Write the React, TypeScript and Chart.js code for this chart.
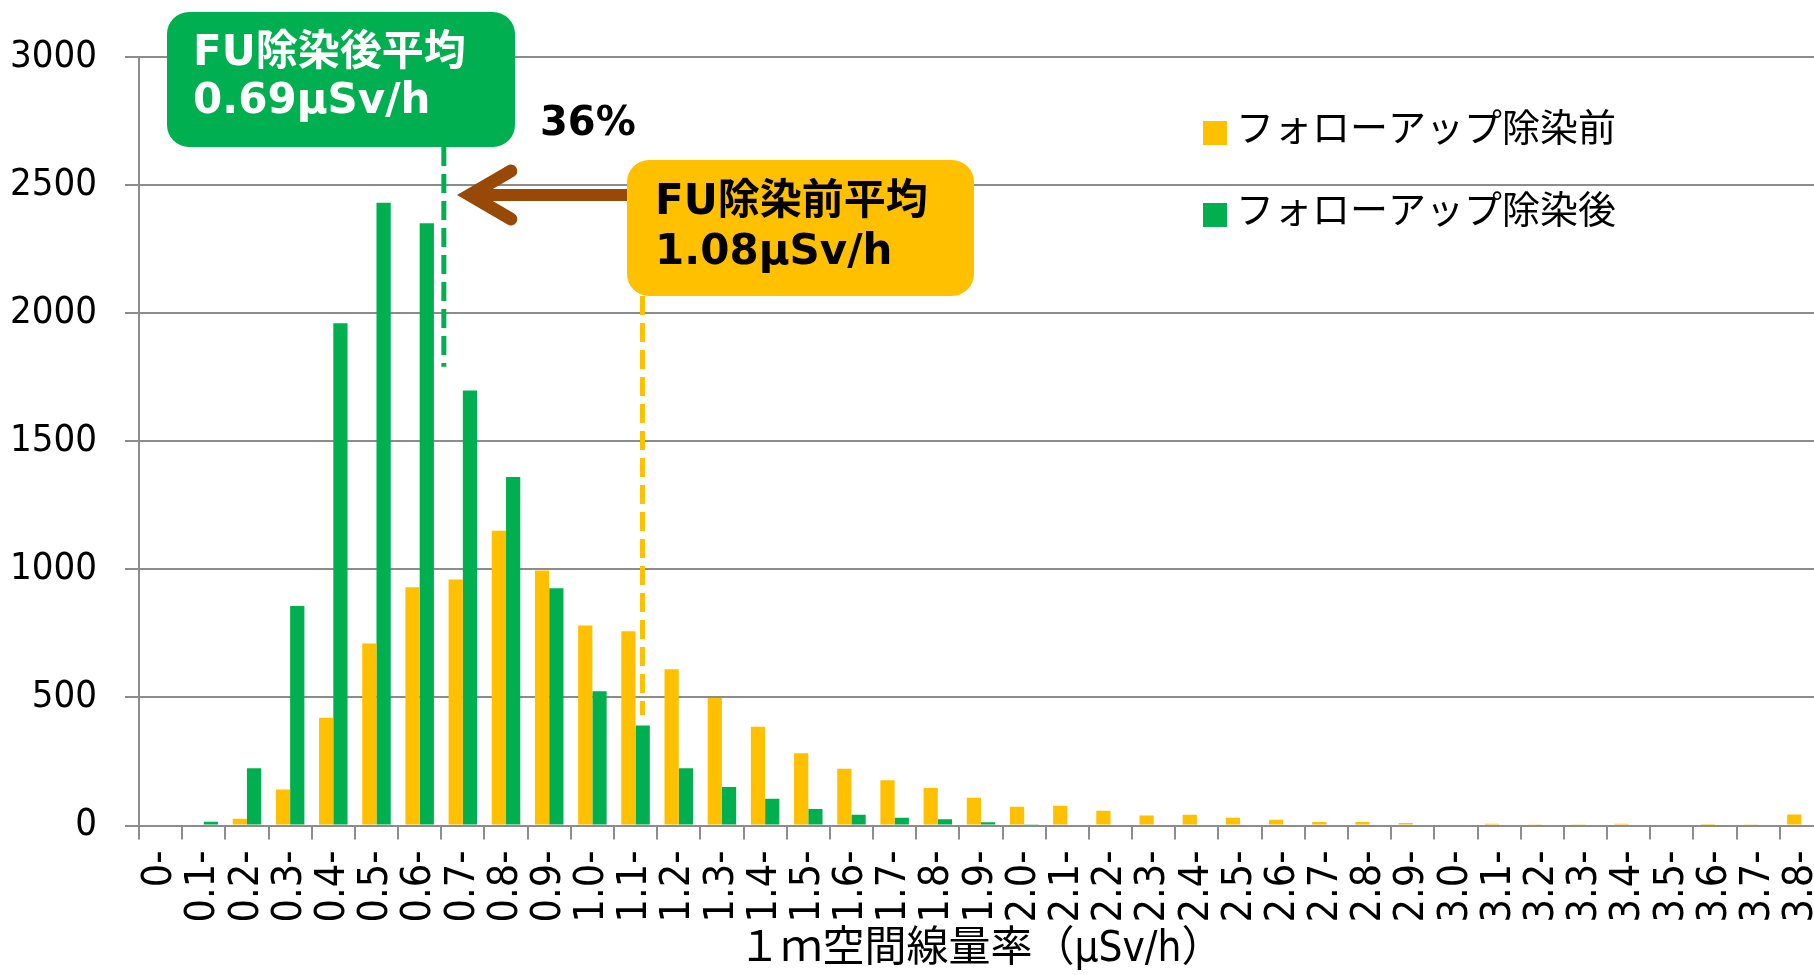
import React, { useEffect, useRef } from 'react';
import { Chart, registerables } from 'chart.js';

Chart.register(...registerables);

// ---------------- data ----------------
const categories = [
  '0-', '0.1-', '0.2-', '0.3-', '0.4-', '0.5-', '0.6-', '0.7-', '0.8-', '0.9-',
  '1.0-', '1.1-', '1.2-', '1.3-', '1.4-', '1.5-', '1.6-', '1.7-', '1.8-', '1.9-',
  '2.0-', '2.1-', '2.2-', '2.3-', '2.4-', '2.5-', '2.6-', '2.7-', '2.8-', '2.9-',
  '3.0-', '3.1-', '3.2-', '3.3-', '3.4-', '3.5-', '3.6-', '3.7-', '3.8-',
];

const beforeValues = [
  0, 0, 26, 140, 420, 710, 930, 960, 1150, 995,
  780, 758, 610, 498, 385, 282, 221, 177, 146, 108,
  73, 77, 58, 39, 42, 30, 22, 14, 14, 10,
  0, 7, 5, 5, 7, 0, 2, 5, 43,
];

const afterValues = [
  0, 15, 223, 857, 1960, 2430, 2350, 1697, 1360, 926,
  524, 390, 223, 150, 104, 64, 42, 30, 24, 13,
  3, 4, 0, 0, 0, 0, 0, 0, 0, 0,
  0, 0, 0, 0, 0, 0, 0, 0, 0,
];

const seriesLabels = ['フォローアップ除染前', 'フォローアップ除染後'];
const seriesColors = ['#FFC000', '#00B050'];

const yMin = 0;
const yMax = 3000;
const yStep = 500;

const xAxisTitle = '１ｍ空間線量率（μSv/h）';
const meanAfterLines = ['FU除染後平均', '0.69μSv/h'];
const meanBeforeLines = ['FU除染前平均', '1.08μSv/h'];
const reductionLabel = '36%';

// anchor points of the mean markers, in axis units (category index, count)
const meanAfterMarker = { x: 6.56, yEnd: 1790 };
const meanBeforeMarker = { x: 11.16, yEnd: 430 };

// ---------------- styles ----------------
const GRID = '#8c8c8c';
const BROWN = '#984807';
const LATIN_NARROW = '"DejaVu Sans Condensed", "DejaVu Sans", sans-serif';
const BOLD_FONT = 'bold 42px "DejaVu Sans", "Noto Sans CJK JP", sans-serif';

function roundedBox(ctx: CanvasRenderingContext2D, l: number, t: number, r: number, b: number, rad: number) {
  ctx.beginPath();
  ctx.moveTo(l + rad, t);
  ctx.lineTo(r - rad, t);
  ctx.arcTo(r, t, r, t + rad, rad);
  ctx.lineTo(r, b - rad);
  ctx.arcTo(r, b, r - rad, b, rad);
  ctx.lineTo(l + rad, b);
  ctx.arcTo(l, b, l, b - rad, rad);
  ctx.lineTo(l, t + rad);
  ctx.arcTo(l, t, l + rad, t, rad);
  ctx.closePath();
}

const annotationPlugin = {
  id: 'meanAnnotations',
  afterDatasetsDraw(chart: any) {
    const { ctx, scales } = chart;
    const x = scales.x;
    const y = scales.y;
    ctx.save();

    const greenBox = { l: 167, t: 12, r: 515, b: 147 };
    const orangeBox = { l: 627, t: 160, r: 974, b: 296 };

    // dashed mean lines
    ctx.lineWidth = 5;
    ctx.setLineDash([19, 8]);
    const gx = x.getPixelForValue(meanAfterMarker.x);
    ctx.strokeStyle = seriesColors[1];
    ctx.beginPath();
    ctx.moveTo(gx, greenBox.b);
    ctx.lineTo(gx, y.getPixelForValue(meanAfterMarker.yEnd));
    ctx.stroke();

    const ox = x.getPixelForValue(meanBeforeMarker.x);
    ctx.strokeStyle = seriesColors[0];
    ctx.beginPath();
    ctx.moveTo(ox, orangeBox.b);
    ctx.lineTo(ox, y.getPixelForValue(meanBeforeMarker.yEnd));
    ctx.stroke();
    ctx.setLineDash([]);

    // arrow
    const ay = 195;
    const vx = gx + 26;
    ctx.strokeStyle = BROWN;
    ctx.lineWidth = 12;
    ctx.lineCap = 'butt';
    ctx.beginPath();
    ctx.moveTo(orangeBox.l + 2, ay);
    ctx.lineTo(vx + 4, ay);
    ctx.stroke();
    ctx.lineWidth = 13;
    ctx.lineCap = 'round';
    ctx.lineJoin = 'miter';
    ctx.miterLimit = 10;
    ctx.beginPath();
    ctx.moveTo(vx + 41, ay - 24);
    ctx.lineTo(vx, ay);
    ctx.lineTo(vx + 41, ay + 24);
    ctx.stroke();

    // boxes
    ctx.fillStyle = seriesColors[1];
    roundedBox(ctx, greenBox.l, greenBox.t, greenBox.r, greenBox.b, 22);
    ctx.fill();
    ctx.fillStyle = seriesColors[0];
    roundedBox(ctx, orangeBox.l, orangeBox.t, orangeBox.r, orangeBox.b, 22);
    ctx.fill();

    ctx.font = BOLD_FONT;
    ctx.textAlign = 'left';
    ctx.textBaseline = 'alphabetic';
    ctx.fillStyle = '#ffffff';
    ctx.fillText(meanAfterLines[0], 193, 65);
    ctx.fillText(meanAfterLines[1], 193, 113);
    ctx.fillStyle = '#000000';
    ctx.fillText(meanBeforeLines[0], 655, 214);
    ctx.fillText(meanBeforeLines[1], 655, 264);

    ctx.font = 'bold 40px "DejaVu Sans", sans-serif';
    ctx.fillText(reductionLabel, 540, 135);

    // legend
    const legendX = 1203;
    const rowY = [121, 203];
    ctx.font = '38px "Noto Sans CJK JP", sans-serif';
    ctx.textBaseline = 'middle';
    for (let i = 0; i < seriesLabels.length; i++) {
      ctx.fillStyle = seriesColors[i];
      ctx.fillRect(legendX, rowY[i], 24, 24);
      ctx.fillStyle = '#000000';
      ctx.fillText(seriesLabels[i], legendX + 33, rowY[i] + 6);
    }
    ctx.restore();
  },
};

export default function App() {
  const canvasRef = useRef<HTMLCanvasElement | null>(null);

  useEffect(() => {
    const canvas = canvasRef.current;
    if (!canvas) return;
    const chart = new Chart(canvas, {
      type: 'bar',
      data: {
        labels: categories,
        datasets: [
          {
            label: seriesLabels[0],
            data: beforeValues,
            backgroundColor: seriesColors[0],
            barPercentage: 1.0,
            categoryPercentage: 0.66,
          },
          {
            label: seriesLabels[1],
            data: afterValues,
            backgroundColor: seriesColors[1],
            barPercentage: 1.0,
            categoryPercentage: 0.66,
          },
        ],
      },
      options: {
        responsive: false,
        maintainAspectRatio: false,
        animation: false,
        devicePixelRatio: 1,
        layout: { padding: { top: 56.7, right: 77, left: 0, bottom: 0 } },
        plugins: {
          legend: { display: false },
          tooltip: { enabled: false },
          title: { display: false },
        },
        scales: {
          x: {
            offset: true,
            grid: {
              display: true,
              drawOnChartArea: false,
              drawTicks: true,
              tickLength: 14,
              color: GRID,
              lineWidth: 2,
              offset: true,
            },
            border: { display: true, color: GRID, width: 2 },
            ticks: {
              autoSkip: false,
              minRotation: 90,
              maxRotation: 90,
              padding: 11,
              color: '#000000',
              font: { family: LATIN_NARROW, size: 41 },
            },
            title: {
              display: true,
              text: xAxisTitle,
              color: '#000000',
              font: { family: '"DejaVu Sans Condensed", "DejaVu Sans", "Noto Sans CJK JP", sans-serif', size: 42 },
              padding: { top: 0, bottom: 0 },
            },
            afterFit: (scale: any) => {
              scale.height = 149.5;
            },
          },
          y: {
            min: yMin,
            max: yMax,
            grid: {
              color: GRID,
              lineWidth: 2,
              drawTicks: true,
              tickLength: 14,
            },
            border: { display: true, color: GRID, width: 2 },
            ticks: {
              stepSize: yStep,
              padding: 28,
              color: '#000000',
              font: { family: LATIN_NARROW, size: 38 },
              callback: (value: any) => String(value),
            },
            afterFit: (scale: any) => {
              scale.width = 139;
            },
          },
        },
      },
      plugins: [annotationPlugin],
    });
    return () => chart.destroy();
  }, []);

  return (
    <div
      style={{
        position: 'fixed',
        left: 0,
        top: 0,
        width: 1814,
        height: 975,
        overflow: 'hidden',
        background: '#ffffff',
      }}
    >
      <canvas
        ref={canvasRef}
        width={1900}
        height={975}
        style={{ display: 'block', width: 1900, height: 975 }}
      />
    </div>
  );
}
